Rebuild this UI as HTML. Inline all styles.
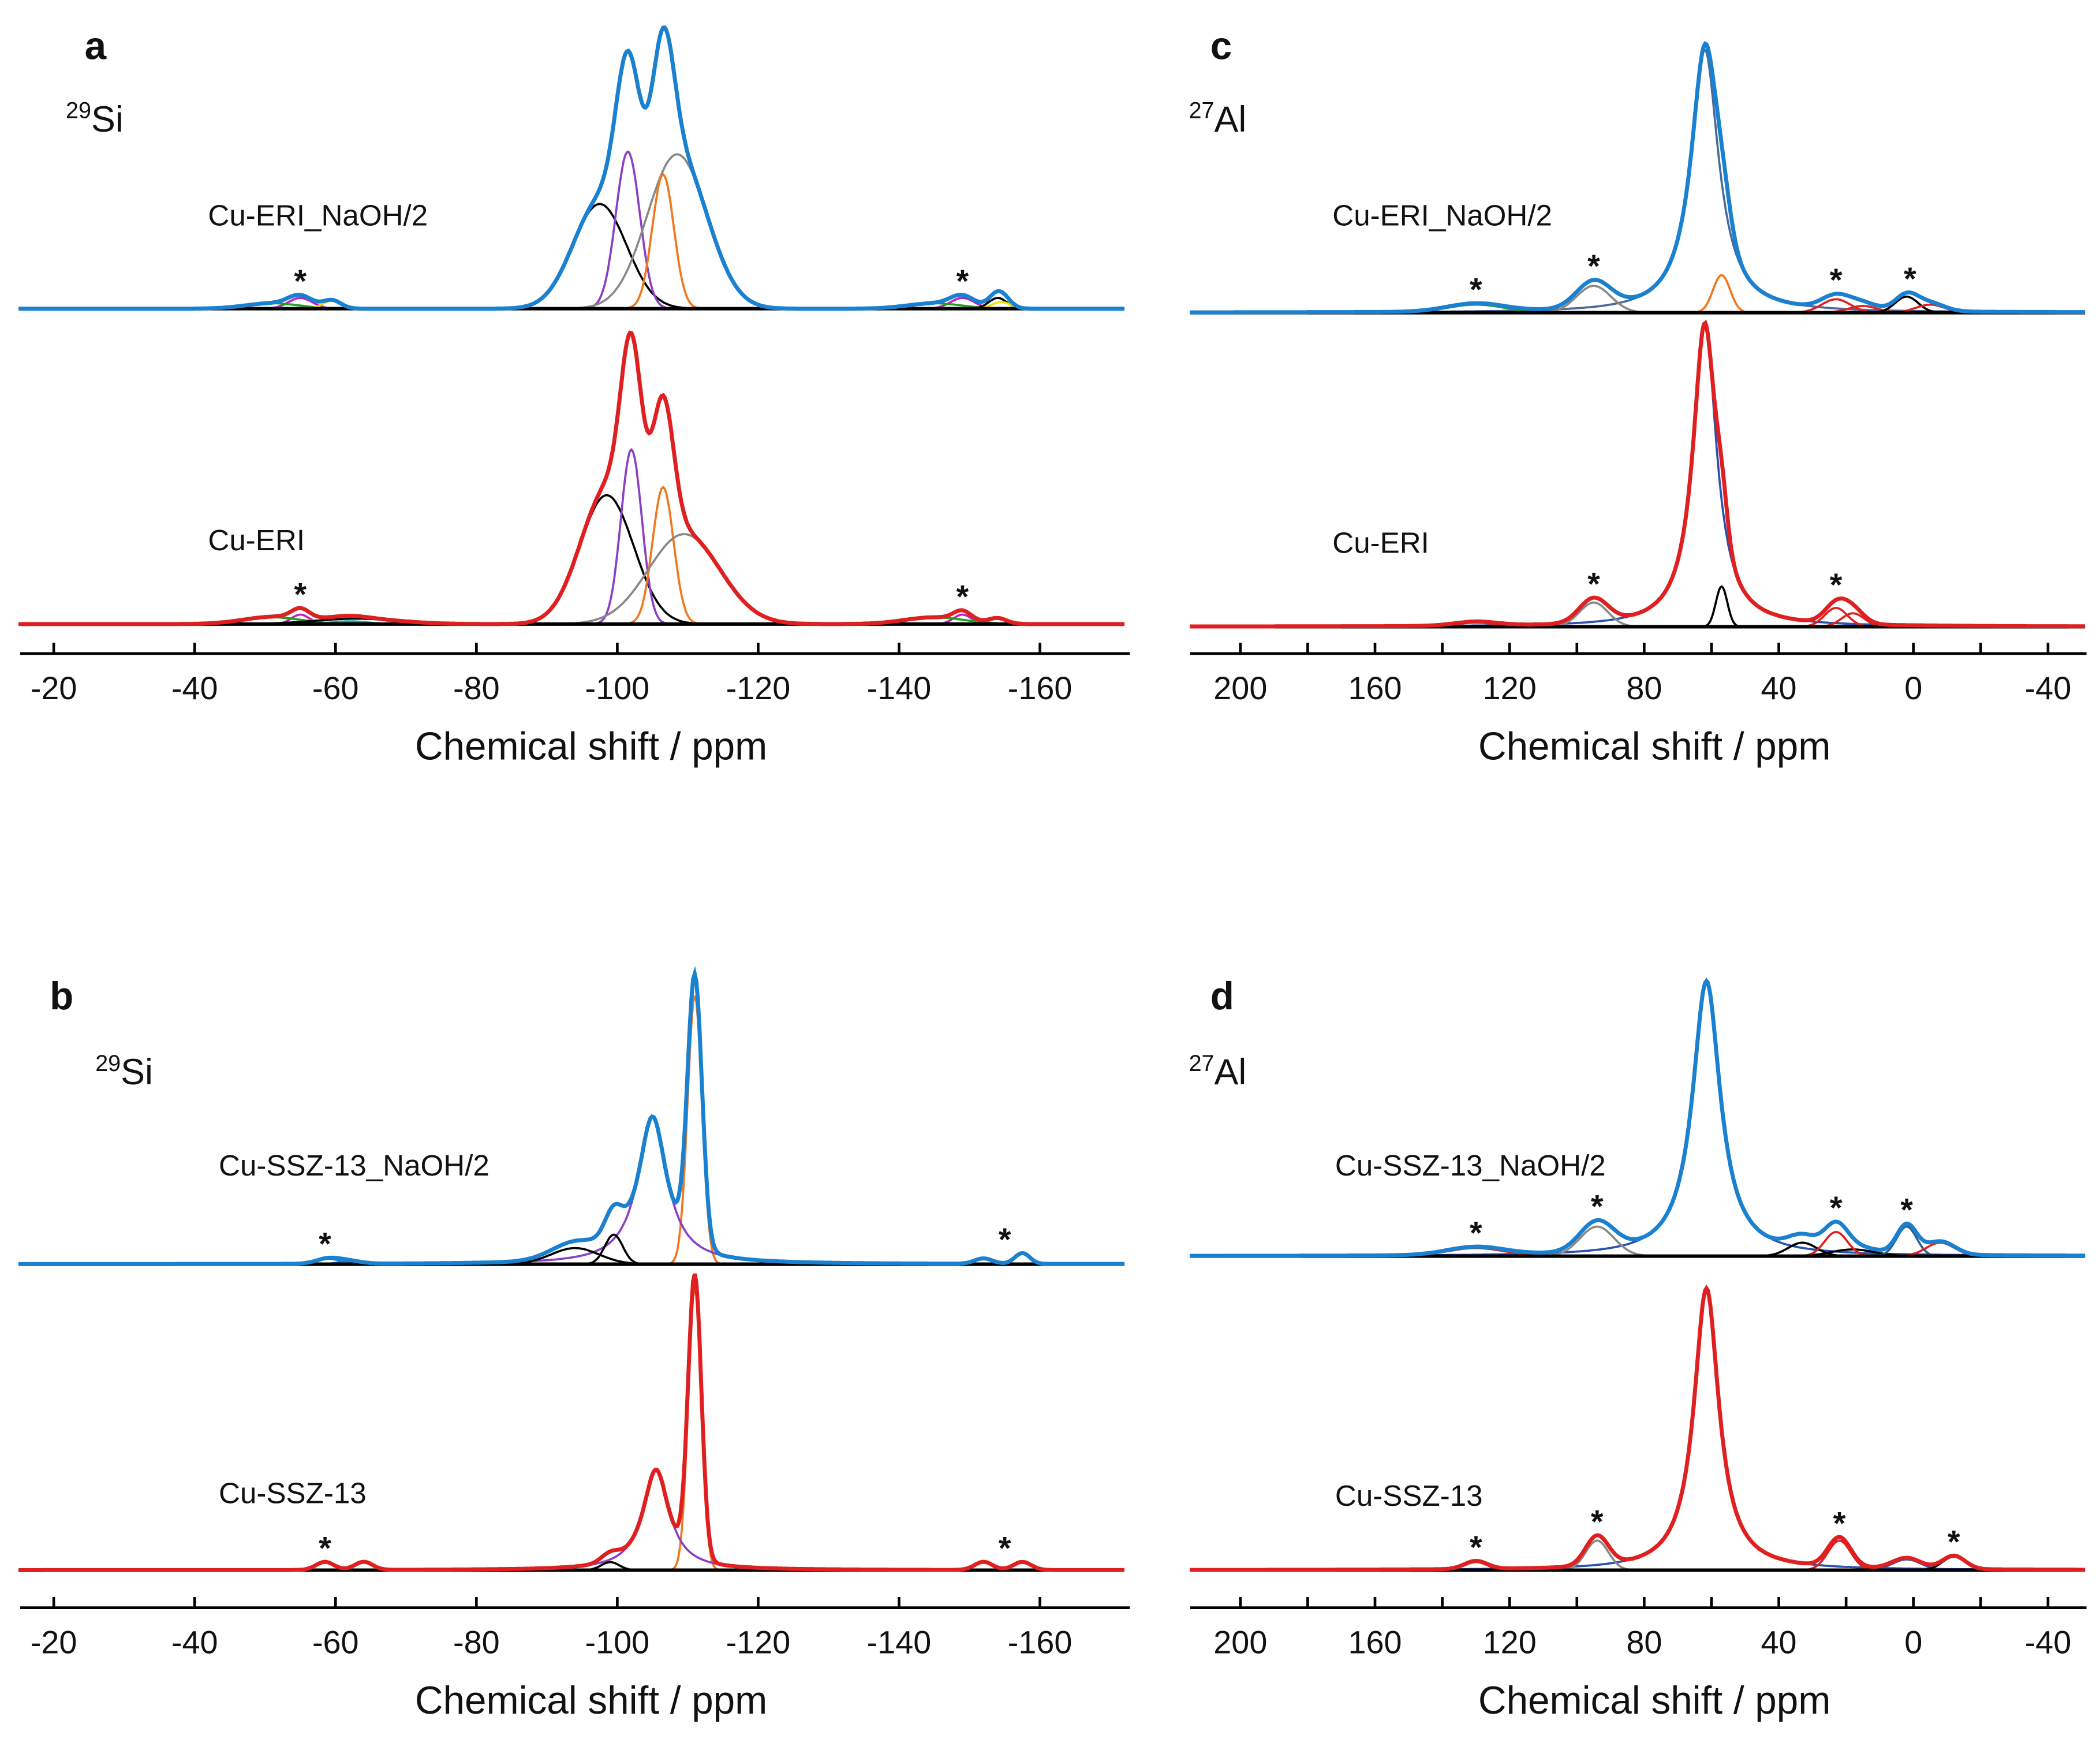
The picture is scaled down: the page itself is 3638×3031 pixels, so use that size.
<!DOCTYPE html>
<html><head><meta charset="utf-8"><style>
html,body{margin:0;padding:0;background:#fff}
svg{display:block}
text{font-family:"Liberation Sans",sans-serif;fill:#111}
</style></head><body>
<svg id="fig" width="3638" height="3031" viewBox="0 0 1565 1304" xmlns="http://www.w3.org/2000/svg">
<rect width="1565" height="1304" fill="#fff"/>
<g id="g"></g>
</svg>
<script>
// ---------- data ----------
// Panel a (29Si, Cu-ERI)
const aUpCenters=[-97.5,-101.5,-108.5,-106.5,-55,-51,-59.5,-149,-145,-154,-154.5];
const aUpHeights=[78,117,115,100,8,4,6,8,4,8,5];
const aUpWidths=[9,4,10,3.6,4,9,3,4,9,3,3];
const aUpColors=["#000","#8a3fc4","#888","#f07820","#c020c0","#20a020","#f0e000","#c020c0","#20a020","#000","#f0e000"];
const aLoCenters=[-98.5,-102,-106.5,-109.5,-55,-51,-63,-62,-149,-145,-154];
const aLoHeights=[96,130,102,67,7,5,4,2,7,5,4];
const aLoWidths=[9,3.5,3.5,12,3,10,14,6,3,10,3];
const aLoColors=["#000","#8a3fc4","#f07820","#888","#c020c0","#20a020","#000","#20a0a0","#c020c0","#20a020","#20a0a0"];
// Panel b (29Si, Cu-SSZ-13)
const bUpCenters=[-111,-105,-99.5,-94,-59,-62,-152,-157.5];
const bUpHeights=[200,110,22,12,4,2,4,8];
const bUpWidths=[2.4,5,3,8,4,4,3,2.5];
const bUpColors=["#f07820","#8a3fc4","#000","#000","#1a80d0","#1a80d0","#1a80d0","#000"];
const bLoCenters=[-111,-105.5,-99,-58.5,-64,-152,-157.5];
const bLoHeights=[210,75,6,6,6,6,6];
const bLoWidths=[2.2,4.5,3,3,3,3,3];
const bLoColors=["#f07820","#8a3fc4","#000","#e02020","#000","#e02020","#e02020"];
// Panel c (27Al, Cu-ERI)
const cUpCenters=[62,57,95,130,23,15,2,-5];
const cUpHeights=[196,28,20,6,10,5,12,6];
const cUpWidths=[10,6,12,20,10,10,8,10];
const cUpColors=["#4a6a9a","#f07820","#888","#20a020","#e02020","#e02020","#000","#e02020"];
const cLoCenters=[62,57,95,23,18,130];
const cLoHeights=[226,30,18,14,10,3];
const cLoWidths=[8.5,4,10,8,8,15];
const cLoColors=["#2a50b0","#000","#888","#e02020","#e02020","#e02020"];
// Panel d (27Al, Cu-SSZ-13)
const dUpCenters=[61.5,94,130,33,18,23,2,-8];
const dUpHeights=[205,22,6,10,5,18,22,10];
const dUpWidths=[10,12,20,10,15,8,7,10];
const dUpColors=["#2a50b0","#888","#e02020","#000","#000","#e02020","#2a6090","#e02020"];
const dLoCenters=[61.5,94,130,22,2,-12];
const dLoHeights=[210,22,6,22,8,10];
const dLoWidths=[9,8,8,8,10,8];
const dLoColors=["#2a50b0","#888","#e02020","#e02020","#2a50b0","#000"];
// tick labels
const siTicks=[-20,-40,-60,-80,-100,-120,-140,-160];
const alTicks=[200,160,120,80,40,0,-40];
const alMinor=[200,180,160,140,120,100,80,60,40,20,0,-20,-40];
// star positions (ppm)
const aUpStars=[-55,-149], aLoStars=[-55,-149];
const bUpStars=[-58.5,-155], bLoStars=[-58.5,-155];
const cUpStars=[130,95,23,1], cLoStars=[95,23];
const dUpStars=[130,94,23,2], dLoStars=[130,94,22,-12];

// ---------- helpers ----------
const NS="http://www.w3.org/2000/svg";
const G=document.getElementById('g');
function mk(tag,attrs,parent){const e=document.createElementNS(NS,tag);for(const k in attrs)e.setAttribute(k,attrs[k]);(parent||G).appendChild(e);return e;}
const xSi=p=>40+(-20-p)*5.25;          // panels a,b
const xAl=p=>1426-2.508*p;              // panels c,d
function shape(p,c,h,w,lor){const d=(p-c)/w;return lor? h/(1+4*d*d) : h*Math.exp(-2.7726*d*d);}
function spectrum(name,xf,p0,p1,base,cs,hs,ws,cols,total,lorIdx,stars){
  const grp=mk('g',{});
  
  
  const N=700,pts=[];for(let i=0;i<=N;i++)pts.push(p0+(p1-p0)*i/N);
  const tot=pts.map(()=>0);
  cs.forEach((c,k)=>{
    const lor=lorIdx.includes(k);
    const ys=pts.map((p,i)=>{const v=shape(p,c,hs[k],ws[k],lor);tot[i]+=v;return v;});
    const d=pts.map((p,i)=>(i?'L':'M')+xf(p).toFixed(1)+' '+(base-ys[i]).toFixed(1)).join('');
    const pe=mk('path',{d:d,fill:'none',stroke:cols[k],'stroke-width':1.6},grp);
    
    
  });
  const d=pts.map((p,i)=>(i?'L':'M')+xf(p).toFixed(1)+' '+(base-tot[i]).toFixed(1)).join('');
  const bl=mk('line',{x1:xf(p0),x2:xf(p1),y1:base,y2:base,stroke:'#000','stroke-width':2.6},grp);
  
  
  const tp=mk('path',{d:d,fill:'none',stroke:total,'stroke-width':3},grp);
  
  
  stars.forEach(s=>{
    let best=0;pts.forEach((p,i)=>{if(Math.abs(p-s)<2.5)best=Math.max(best,tot[i]);});
    const t=mk('text',{x:xf(s),y:base-best-2,'text-anchor':'middle','font-size':24,'font-weight':'bold'},grp);
    t.textContent='*';
    
    
  });
}
function txt(s,x,y,size,name,extra){const t=mk('text',Object.assign({x:x,y:y,'font-size':size},extra||{}));t.textContent=s;
  
  return t;}
function axis(name,x0,x1,y,xf,labels,minor){
  const a=mk('g',{});
  
  
  mk('line',{x1:x0,x2:x1,y1:y,y2:y,stroke:'#000','stroke-width':2},a);
  (minor||labels).forEach(v=>mk('line',{x1:xf(v),x2:xf(v),y1:y,y2:y-8,stroke:'#000','stroke-width':2},a));
  labels.forEach(v=>{const t=mk('text',{x:xf(v),y:y+34,'font-size':24,'text-anchor':'middle'},a);t.textContent=v;
    
    });
  const t=mk('text',{x:(x0+x1)/2+12,y:y+79,'font-size':29,'text-anchor':'middle'},a);t.textContent='Chemical shift / ppm';
  
  
}
function iso(mass,el,x,y,name){const t=mk('text',{x:x,y:y,'font-size':27});
  
  
  const s1=mk('tspan',{'font-size':17,dy:-10},t);s1.textContent=mass;const s2=mk('tspan',{dy:10},t);s2.textContent=el;}

// ---------- panel a ----------
spectrum('spectrum-cu-eri-naoh2-si',xSi,-15,-172,230,aUpCenters,aUpHeights,aUpWidths,aUpColors,'#1a80d0',[],aUpStars);
spectrum('spectrum-cu-eri-si',xSi,-15,-172,465,aLoCenters,aLoHeights,aLoWidths,aLoColors,'#e02020',[],aLoStars);
axis('x-axis-a',15,842,487,xSi,siTicks);
txt('a',63,44,29,'panel-label-a',{'font-weight':'bold'});
iso('29','Si',49,98,'nucleus-label-a');
txt('Cu-ERI_NaOH/2',155,168,22,'sample-label');
txt('Cu-ERI',155,410,22,'sample-label');
// ---------- panel b ----------
spectrum('spectrum-cu-ssz13-naoh2-si',xSi,-15,-172,942,bUpCenters,bUpHeights,bUpWidths,bUpColors,'#1a80d0',[1],bUpStars);
spectrum('spectrum-cu-ssz13-si',xSi,-15,-172,1170,bLoCenters,bLoHeights,bLoWidths,bLoColors,'#e02020',[1],bLoStars);
axis('x-axis-b',15,842,1198,xSi,siTicks);
txt('b',37,752,29,'panel-label-b',{'font-weight':'bold'});
iso('29','Si',71,808,'nucleus-label-b');
txt('Cu-SSZ-13_NaOH/2',163,876,22,'sample-label');
txt('Cu-SSZ-13',163,1120,22,'sample-label');
// ---------- panel c ----------
spectrum('spectrum-cu-eri-naoh2-al',xAl,215,-51,233,cUpCenters,cUpHeights,cUpWidths,cUpColors,'#1a80d0',[0],cUpStars);
spectrum('spectrum-cu-eri-al',xAl,215,-51,467,cLoCenters,cLoHeights,cLoWidths,cLoColors,'#e02020',[0],cLoStars);
axis('x-axis-c',887,1555,487,xAl,alTicks,alMinor);
txt('c',902,44,29,'panel-label-c',{'font-weight':'bold'});
iso('27','Al',886,98,'nucleus-label-c');
txt('Cu-ERI_NaOH/2',993,168,22,'sample-label');
txt('Cu-ERI',993,412,22,'sample-label');
// ---------- panel d ----------
spectrum('spectrum-cu-ssz13-naoh2-al',xAl,215,-51,936,dUpCenters,dUpHeights,dUpWidths,dUpColors,'#1a80d0',[0],dUpStars);
spectrum('spectrum-cu-ssz13-al',xAl,215,-51,1170,dLoCenters,dLoHeights,dLoWidths,dLoColors,'#e02020',[0],dLoStars);
axis('x-axis-d',887,1555,1198,xAl,alTicks,alMinor);
txt('d',902,752,29,'panel-label-d',{'font-weight':'bold'});
iso('27','Al',886,808,'nucleus-label-d');
txt('Cu-SSZ-13_NaOH/2',995,876,22,'sample-label');
txt('Cu-SSZ-13',995,1122,22,'sample-label');
</script>
</body></html>
